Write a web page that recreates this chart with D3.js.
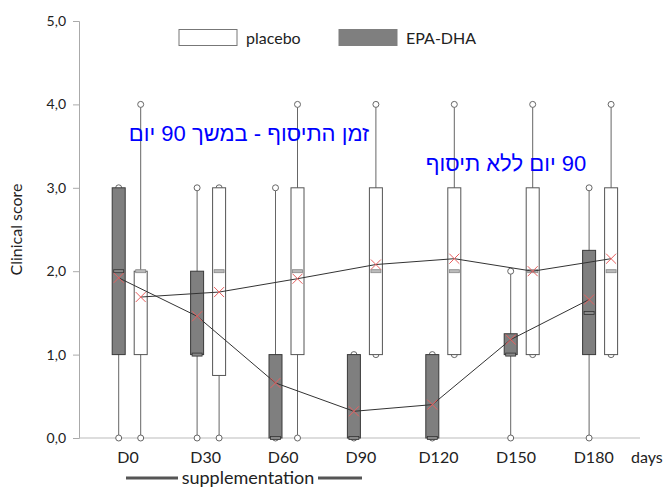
<!DOCTYPE html>
<html lang="en">
<head>
<meta charset="utf-8" />
<title>Clinical score box plot</title>
<style>
  body { margin: 0; background: #fff; }
  svg text { font-family: Lato, "Liberation Sans", sans-serif; fill: #222; }
  .heb { font-family: "Liberation Sans", "DejaVu Sans", sans-serif; fill: #0000ff; font-size: 22px; }
</style>
<script src="https://cdn.jsdelivr.net/npm/d3@7/dist/d3.min.js"></script>
</head>
<body>
<script>
// categories and tick labels
var categories = ["D0", "D30", "D60", "D90", "D120", "D150", "D180"];
var yTicks = [0, 1, 2, 3, 4, 5];

// EPA-DHA (grey boxes)
var epaMin    = [0, 0, 0, 0, 0, 0, 0];
var epaQ1     = [1, 1, 0, 0, 0, 1, 1];
var epaMedian = [2, 1, 0, 0, 0, 1, 1.5];
var epaQ3     = [3, 2, 1, 1, 1, 1.25, 2.25];
var epaMax    = [3, 3, 3, 1, 1, 2, 3];
var epaMean   = [1.92, 1.46, 0.66, 0.32, 0.40, 1.18, 1.66];

// placebo (white boxes)
var placeboMin    = [0, 0, 0, 1, 1, 1, 1];
var placeboQ1     = [1, 0.75, 1, 1, 1, 1, 1];
var placeboMedian = [2, 2, 2, 2, 2, 2, 2];
var placeboQ3     = [2, 3, 3, 3, 3, 3, 3];
var placeboMax    = [4, 3, 4, 4, 4, 4, 4];
var placeboMean   = [1.69, 1.75, 1.91, 2.08, 2.15, 2.00, 2.15];

var width = 668, height = 487;

var svg = d3.select('body').append('svg')
    .attr('width', width)
    .attr('height', height);

var x = d3.scaleBand().domain(categories).range([90.5, 639.3]);
var sub = d3.scaleBand().domain(["EPA-DHA", "placebo"]).range([-22, 22]);
// labels sit on a slightly tighter grid than the boxes
var xLabel = d3.scalePoint().domain(categories).range([128, 593.7]);
var y = d3.scaleLinear().domain([0, 5]).range([438, 21]);
var boxW = 13;

function cx(i, s) { return x(categories[i]) + x.bandwidth() / 2 + sub(s) + sub.bandwidth() / 2; }

// both series share the same drawing code
var series = [
  { name: "EPA-DHA", fill: "#7f7f7f", stroke: "#3a3a3a", min: epaMin, q1: epaQ1, med: epaMedian, q3: epaQ3, max: epaMax, mean: epaMean },
  { name: "placebo", fill: "#ffffff", stroke: "#555555", min: placeboMin, q1: placeboQ1, med: placeboMedian, q3: placeboQ3, max: placeboMax, mean: placeboMean }
];

// axes
var yAxis = d3.axisLeft(y).tickValues(yTicks).tickSize(6).tickPadding(7)
    .tickFormat(function(d) { return d3.format(".1f")(d).replace(".", ","); });
var gy = svg.append('g').attr('transform', 'translate(79,0)').call(yAxis);
gy.select('.domain').attr('stroke', '#aaa');
gy.selectAll('.tick line').attr('stroke', '#aaa');
gy.selectAll('.tick text').style('font-size', '14px').attr('fill', '#222');

svg.append('line')
    .attr('x1', 79).attr('x2', 640)
    .attr('y1', y(0)).attr('y2', y(0))
    .attr('stroke', '#bbb');

svg.append('text')
    .attr('transform', 'translate(22,' + y(2.5) + ') rotate(-90)')
    .attr('text-anchor', 'middle')
    .style('font-size', '16px')
    .text('Clinical score');

// category labels
svg.selectAll('.cat').data(categories).enter().append('text')
    .attr('x', function(d) { return xLabel(d); })
    .attr('y', 463)
    .attr('text-anchor', 'middle')
    .style('font-size', '16px')
    .text(function(d) { return d; });

svg.append('text').attr('x', 631).attr('y', 463).style('font-size', '16px').text('days');

// supplementation bar
svg.append('text').attr('x', 248).attr('y', 484).attr('text-anchor', 'middle')
    .style('font-size', '18px').text('supplementation');
svg.append('line').attr('x1', 126).attr('x2', 178).attr('y1', 478).attr('y2', 478)
    .attr('stroke', '#555').attr('stroke-width', 3);
svg.append('line').attr('x1', 318).attr('x2', 362).attr('y1', 478).attr('y2', 478)
    .attr('stroke', '#555').attr('stroke-width', 3);

// boxes
series.forEach(function(s) {
  var g = svg.append('g');
  var idx = d3.range(categories.length);
  // whiskers
  g.selectAll('.wh').data(idx).enter().append('line')
      .attr('x1', function(i) { return cx(i, s.name); })
      .attr('x2', function(i) { return cx(i, s.name); })
      .attr('y1', function(i) { return y(s.min[i]); })
      .attr('y2', function(i) { return y(s.max[i]); })
      .attr('stroke', '#666');
  // end circles
  [s.min, s.max].forEach(function(arr) {
    g.selectAll(null).data(idx).enter().append('circle')
        .attr('cx', function(i) { return cx(i, s.name); })
        .attr('cy', function(i) { return y(arr[i]); })
        .attr('r', 3)
        .attr('fill', '#fff')
        .attr('stroke', '#666');
  });
  g.selectAll('.box').data(idx).enter().append('rect')
      .attr('x', function(i) { return cx(i, s.name) - boxW / 2; })
      .attr('y', function(i) { return y(s.q3[i]); })
      .attr('width', boxW)
      .attr('height', function(i) { return y(s.q1[i]) - y(s.q3[i]); })
      .attr('fill', s.fill)
      .attr('stroke', s.stroke);
  // median marks
  g.selectAll('.med').data(idx).enter().append('rect')
      .attr('x', function(i) { return cx(i, s.name) - 5; })
      .attr('y', function(i) { return y(s.med[i]) - 1.5; })
      .attr('width', 10)
      .attr('height', 3)
      .attr('fill', s.name === 'placebo' ? '#bbb' : '#888')
      .attr('stroke', s.name === 'placebo' ? '#888' : '#333')
      .attr('stroke-width', 0.8);
});

// mean lines and crosses
series.forEach(function(s) {
  var idx = d3.range(categories.length);
  var line = d3.line()
      .x(function(i) { return cx(i, s.name); })
      .y(function(i) { return y(s.mean[i]); });
  svg.append('path').datum(idx)
      .attr('d', line)
      .attr('fill', 'none')
      .attr('stroke', '#333')
      .attr('stroke-width', 1);
  svg.selectAll(null).data(idx).enter().append('path')
      .attr('d', function(i) {
        var px = cx(i, s.name), py = y(s.mean[i]), r = 5;
        return 'M' + (px - r) + ',' + (py - r) + 'L' + (px + r) + ',' + (py + r) +
               'M' + (px - r) + ',' + (py + r) + 'L' + (px + r) + ',' + (py - r);
      })
      .attr('stroke', '#e86060')
      .attr('stroke-width', 1)
      .attr('fill', 'none');
});

// legend
var legend = [
  { name: 'placebo', fill: '#fff', stroke: '#777', x: 179 },
  { name: 'EPA-DHA', fill: '#7f7f7f', stroke: '#7f7f7f', x: 339 }
];
legend.forEach(function(l) {
  svg.append('rect').attr('x', l.x).attr('y', 29.5).attr('width', 58).attr('height', 16)
      .attr('fill', l.fill).attr('stroke', l.stroke);
  svg.append('text').attr('x', l.x + 67).attr('y', 44).style('font-size', '16px').text(l.name);
});

// Hebrew annotations
svg.append('text').attr('class', 'heb')
    .attr('x', 249).attr('y', 141)
    .attr('direction', 'rtl').attr('text-anchor', 'middle')
    .text('זמן התיסוף - במשך 90 יום');
svg.append('text').attr('class', 'heb')
    .attr('x', 506).attr('y', 171)
    .attr('direction', 'rtl').attr('text-anchor', 'middle')
    .text('90 יום ללא תיסוף');
</script>
</body>
</html>
